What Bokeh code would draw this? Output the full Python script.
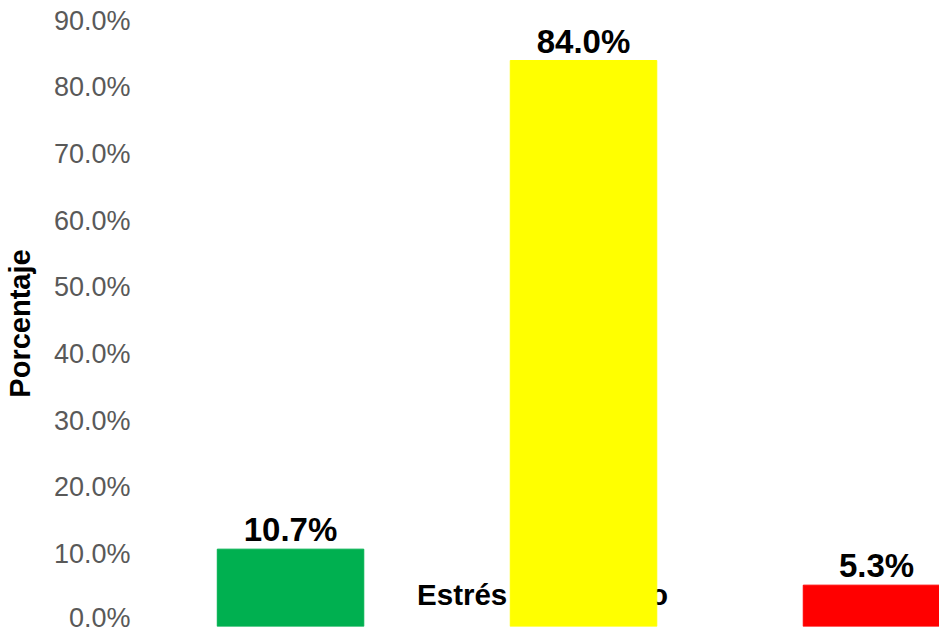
from bokeh.plotting import figure
from bokeh.models import ColumnDataSource, Range1d, FixedTicker, PrintfTickFormatter
from bokeh.core.properties import value
from bokeh.embed import file_html
from bokeh.resources import INLINE

categories = ["Leve", "Moderado", "Severo"]
positions = [1, 2, 3]
percentages = [10.7, 84.0, 5.3]
colors = ["#00B050", "#FFFF00", "#FF0000"]
labels = ["10.7%", "84.0%", "5.3%"]
y_ticks = [0, 10, 20, 30, 40, 50, 60, 70, 80, 90]
x_title = "Estrés académico"
y_title = "Porcentaje"

FONT = "Liberation Sans"

x_start, x_end = 0.505, 3.215
y_start, y_end = -0.9, 90

src = ColumnDataSource(dict(x=positions, v=percentages, c=colors, lab=labels, cat=categories,
                            base=[y_start] * len(positions)))

p = figure(width=939, height=632, x_range=Range1d(x_start, x_end), y_range=Range1d(y_start, y_end),
           output_backend="svg", toolbar_location=None,
           min_border_top=20, min_border_bottom=6, min_border_right=0, min_border_left=145)

p.xaxis.visible = False
p.grid.visible = False
p.outline_line_color = None
p.background_fill_color = "white"
p.border_fill_color = "white"

ya = p.yaxis[0]
ya.ticker = FixedTicker(ticks=y_ticks)
ya.formatter = PrintfTickFormatter(format="%.1f%%")
ya.axis_line_color = None
ya.major_tick_line_color = None
ya.major_tick_out = 0
ya.major_tick_in = 0
ya.minor_tick_line_color = None
ya.minor_tick_out = 0
ya.major_label_text_font = FONT
ya.major_label_text_font_size = "27px"
ya.major_label_text_color = "#595959"
ya.major_label_standoff = 15
ya.axis_label = y_title
ya.axis_label_text_font = FONT
ya.axis_label_text_font_size = "29px"
ya.axis_label_text_font_style = "bold"
ya.axis_label_text_color = "black"
ya.axis_label_standoff = 15

# x-axis title drawn behind the bars (as in the original)
p.text(x=[(x_start + x_end) / 2], y=[3.9], text=[x_title], text_align="center",
       text_baseline="middle", text_font=value(FONT), text_font_size="29.5px",
       text_font_style="bold", text_color="black")

p.vbar(x="x", bottom="base", top="v", width=0.5, color="c", source=src)

p.text(x="x", y="v", text="lab", source=src, text_align="center", text_baseline="bottom",
       y_offset=-1,
       text_font=value(FONT), text_font_size="33px", text_font_style="bold", text_color="black")

open("out.html", "w").write(file_html(p, INLINE))
